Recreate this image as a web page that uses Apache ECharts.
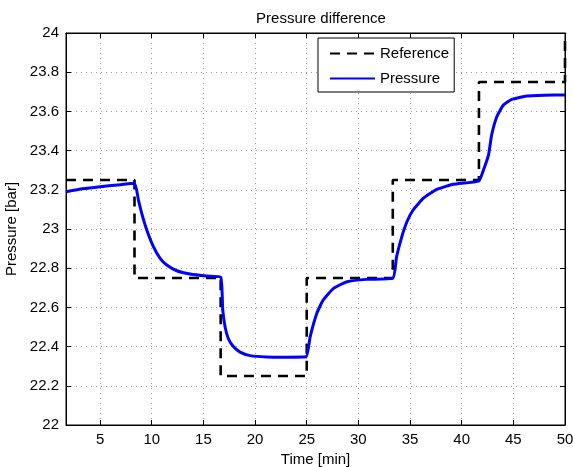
<!DOCTYPE html>
<html>
<head>
<meta charset="utf-8">
<script src="https://cdn.jsdelivr.net/npm/echarts@6/dist/echarts.min.js"></script>
<style>
  html, body { margin: 0; padding: 0; background: #fff; }
  #chart { width: 573px; height: 467px; }
</style>
</head>
<body>
<div id="chart"></div>
<script>
// reference setpoint (step signal)
var refTime  = [1.7, 8.33, 8.33, 16.67, 16.67, 25, 25, 33.33, 33.33, 41.67, 41.67, 50, 50];
var refValue = [23.25, 23.25, 22.75, 22.75, 22.25, 22.25, 22.75, 22.75, 23.25, 23.25, 23.75, 23.75, 24];

// measured pressure
var pTime = [1.7, 3.3, 5, 6.7, 8.33,
  8.71, 9.03, 9.52, 10.16, 10.81, 11.45, 12.42, 13.71, 15.33, 16.67,
  16.87, 17.1, 17.42, 17.9, 18.55, 19.52, 21.1, 23, 24.94,
  25.33, 25.98, 26.6, 27.6, 28.9, 30.8, 33.33,
  33.7, 34.2, 34.7, 35.3, 36.3, 37.6, 39.2, 41.67,
  42.1, 42.6, 42.9, 43.4, 44.04, 44.85, 46.3, 48, 50];
var pValue = [23.19, 23.205, 23.216, 23.225, 23.233,
  23.148, 23.08, 22.995, 22.91, 22.85, 22.816, 22.787, 22.77, 22.76, 22.755,
  22.587, 22.50, 22.44, 22.40, 22.372, 22.354, 22.347, 22.346, 22.348,
  22.45, 22.57, 22.638, 22.697, 22.731, 22.743, 22.748,
  22.859, 22.96, 23.037, 23.097, 23.157, 23.202, 23.228, 23.246,
  23.30, 23.378, 23.48, 23.573, 23.633, 23.661, 23.679, 23.683, 23.684];

function pairs(xs, ys) {
  return xs.map(function (x, i) { return [x, ys[i]]; });
}

var font = 'Liberation Sans, Arial, Helvetica, sans-serif';
var gridLine = { show: true, lineStyle: { color: '#999', type: [1, 4], width: 1 } };

var chart = echarts.init(document.getElementById('chart'));
var option = {
  animation: false,
  backgroundColor: '#fff',
  title: {
    text: 'Pressure difference',
    left: 316, top: 6, textAlign: 'center',
    textStyle: { fontFamily: font, fontSize: 15, fontWeight: 'normal', color: '#000' }
  },
  legend: {
    orient: 'vertical',
    left: 318, top: 38,
    padding: [8, 5, 6, 11],
    itemGap: 10,
    itemWidth: 45, itemHeight: 14,
    borderColor: '#000', borderWidth: 1,
    backgroundColor: '#fff',
    itemStyle: { opacity: 0 },
    textStyle: { fontFamily: font, fontSize: 15, color: '#000' },
    data: ['Reference', 'Pressure']
  },
  grid: {
    left: 66, right: 8, top: 33, bottom: 42,
    show: true, borderColor: '#000', borderWidth: 1,
    containLabel: false, outerBoundsMode: 'none'
  },
  xAxis: [{
    type: 'value', min: 1.7, max: 50, splitNumber: 10,
    name: 'Time [min]', nameLocation: 'middle', nameGap: 25,
    nameTextStyle: { fontFamily: font, fontSize: 15, color: '#000' },
    axisLine: { show: true, lineStyle: { color: '#000' } },
    axisTick: { show: true, inside: true, length: 5, lineStyle: { color: '#000' } },
    axisLabel: { showMinLabel: false, fontFamily: font, fontSize: 15, color: '#000', margin: 7 },
    splitLine: gridLine
  }, {
    type: 'value', min: 1.7, max: 50, splitNumber: 10, position: 'top',
    axisLine: { show: true, lineStyle: { color: '#000' } },
    axisTick: { show: true, inside: true, length: 5, lineStyle: { color: '#000' } },
    axisLabel: { show: false }, splitLine: { show: false }
  }],
  yAxis: [{
    type: 'value', min: 22, max: 24, interval: 0.2,
    name: 'Pressure [bar]', nameLocation: 'middle', nameGap: 37,
    nameTextStyle: { fontFamily: font, fontSize: 15, color: '#000' },
    axisLine: { show: true, lineStyle: { color: '#000' } },
    axisTick: { show: true, inside: true, length: 5, lineStyle: { color: '#000' } },
    axisLabel: { fontFamily: font, fontSize: 15, color: '#000', margin: 7 },
    splitLine: gridLine
  }, {
    type: 'value', min: 22, max: 24, interval: 0.2, position: 'right',
    axisLine: { show: true, lineStyle: { color: '#000' } },
    axisTick: { show: true, inside: true, length: 5, lineStyle: { color: '#000' } },
    axisLabel: { show: false }, splitLine: { show: false }
  }],
  series: [{
    name: 'Reference', type: 'line', showSymbol: false, symbol: 'none',
    data: pairs(refTime, refValue),
    lineStyle: { color: '#000', width: 2.6, type: [10, 7] },
    itemStyle: { color: '#000' }
  }, {
    name: 'Pressure', type: 'line', showSymbol: false, symbol: 'none', smooth: 0.15,
    data: pairs(pTime, pValue),
    lineStyle: { color: '#0000ff', width: 3 },
    itemStyle: { color: '#0000ff' }
  }]
};
chart.setOption(option);
</script>
</body>
</html>
